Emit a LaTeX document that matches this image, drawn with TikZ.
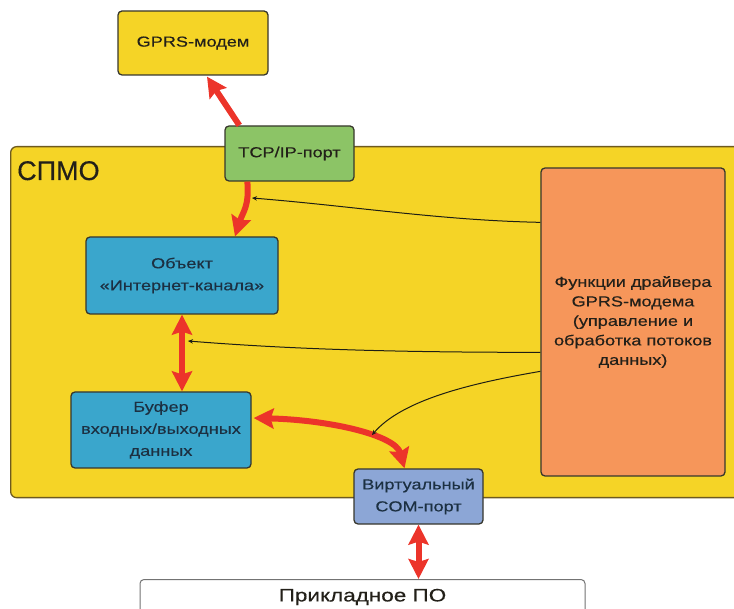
\documentclass[tikz,border=0pt]{standalone}
\usepackage{fontspec}
\setmainfont[FakeStretch=1.25,FakeBold=0.35]{Liberation Sans}
\newfontfamily\titlefont[FakeBold=0.3]{Liberation Sans}
\usetikzlibrary{arrows.meta,calc}

\definecolor{panelfill}{RGB}{245,212,38}
\definecolor{panelline}{RGB}{110,90,30}
\definecolor{boxline}{RGB}{55,55,45}
\definecolor{portgreen}{RGB}{140,196,102}
\definecolor{objblue}{RGB}{58,166,204}
\definecolor{drvorange}{RGB}{246,150,90}
\definecolor{comblue}{RGB}{140,166,214}
\definecolor{flowred}{RGB}{236,52,42}
\definecolor{textdark}{RGB}{35,32,25}
\definecolor{textblue}{RGB}{28,48,66}
\definecolor{ctrlline}{RGB}{30,30,20}

\begin{document}
\begin{tikzpicture}[x=1pt,y=-1pt,
  box/.style={draw=boxline, line width=1.3pt, rounded corners=4pt, align=center,
    inner sep=0pt, text=textdark, font=\fontsize{14.5}{22}\selectfont},
  bluebox/.style={box, fill=objblue, text=textblue},
  flow/.style={draw=flowred, line width=6pt,
    -{Stealth[length=20pt,width=20pt,inset=3pt]}},
  flow2/.style={draw=flowred, line width=6pt,
    {Stealth[length=20pt,width=20pt,inset=3pt]}-{Stealth[length=20pt,width=20pt,inset=3pt]}},
  ctrl/.style={draw=ctrlline, line width=1pt, -{Stealth[length=5pt,width=4.5pt]}}
]
\useasboundingbox (0,0) rectangle (734,609);
\clip (0,0) rectangle (734,609);

% software container
\node (spmo) [draw=panelline, fill=panelfill, line width=1.3pt, rounded corners=6pt,
  minimum width=760pt, minimum height=351pt, anchor=north west, inner sep=0pt] at (10,146) {};
\node (spmolbl) [anchor=base west, inner sep=0pt, text=textdark]
  at (17,180) {\titlefont\fontsize{27}{30}\selectfont СПМО};

% blocks
\node (gprs) [box, fill=panelfill, minimum width=150pt, minimum height=64pt] at (193,43) {GPRS-модем};
\node (tcp) [box, fill=portgreen, minimum width=129pt, minimum height=55pt] at (289.5,153.5) {TCP/IP-порт};
\node (obj) [bluebox, minimum width=192pt, minimum height=77pt] at (182,275.5) {Объект\\«Интернет-канала»};
\node (buf) [bluebox, minimum width=180pt, minimum height=76pt] at (161,430) {Буфер\\входных/выходных\\данных};
\node (func) [box, fill=drvorange, minimum width=184pt, minimum height=308pt,
  font=\fontsize{14.5}{19.5}\selectfont] at (633,322)
  {Функции драйвера\\GPRS-модема\\(управление и\\обработка потоков\\данных)};
\node (vcom) [box, fill=comblue, text=textblue, minimum width=129pt, minimum height=55pt] at (418.5,496.5) {Виртуальный\\COM-порт};
\node (app) [draw=black!55, line width=1pt, rounded corners=4pt, fill=white,
  minimum width=445pt, minimum height=60pt, anchor=north, inner sep=0pt] at (362.5,579) {};
\node (apptxt) [inner sep=0pt, text=textdark, font=\fontsize{18}{22}\selectfont] at (362.5,597) {Прикладное ПО};

% data flows
\draw[flow] ($(tcp.north west)+(15,0)$) -- ($(gprs.south)+(14,1)$);
\draw[flow] ($(tcp.south west)+(23,0)$) .. controls +(2,25) and +(8,-25) .. ($(obj.north)+(53,0)$);
\draw[flow2] (obj.south) -- (obj.south |- buf.north);
\draw[flow2] ($(buf.east)+(2,-12)$) .. controls +(77,2) and +(-9,-33) .. ($(vcom.north)+(-14,0)$);
\draw[flow2] (vcom.south) -- (vcom.south |- app.north);

% driver control links
\coordinate (t1) at (252,198);
\coordinate (t2) at (188,341);
\coordinate (t3) at (372,435);
\draw[ctrl] ($(func.north west)+(0,55)$) .. controls +(-100,-2) and +(100,8) .. (t1);
\draw[ctrl] ($(func.north west)+(0,185)$) .. controls +(-150,0) and +(100,8) .. (t2);
\draw[ctrl] ($(func.north west)+(0,204)$) .. controls +(-70,12) and +(30,-35) .. (t3);
\end{tikzpicture}
\end{document}
